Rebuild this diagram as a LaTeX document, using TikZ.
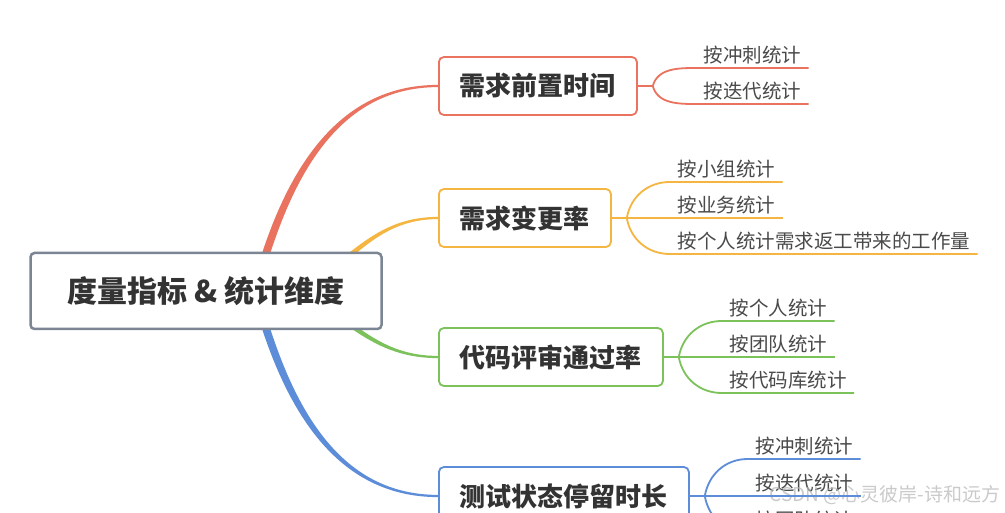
\documentclass[tikz,border=0pt]{standalone}
\usepackage{fontspec}
\setmainfont{Noto Sans CJK SC}
\usetikzlibrary{positioning,backgrounds}
\definecolor{rootgray}{HTML}{7C8593}
\definecolor{txtdark}{HTML}{333333}
\definecolor{txtleaf}{HTML}{4A4A4A}
\definecolor{xred}{HTML}{E9735E}
\definecolor{xorange}{HTML}{F4B640}
\definecolor{xgreen}{HTML}{7BC25A}
\definecolor{xblue}{HTML}{5D8DD8}
\tikzstyle{root} = [rectangle, rounded corners=4pt, minimum width=351pt, minimum height=76pt, text centered, draw=rootgray, line width=2.5pt, fill=white, text=txtdark, font=\fontsize{30}{30}\selectfont\bfseries]
\tikzstyle{topic} = [rectangle, rounded corners=5pt, minimum height=58pt, inner xsep=21pt, line width=1.8pt, fill=white, text=txtdark, font=\fontsize{26}{26}\selectfont\bfseries]
\tikzstyle{leaf} = [inner xsep=7.5pt, inner ysep=3.5pt, text=txtleaf, font=\fontsize{19.5}{20}\selectfont]
\tikzstyle{link} = [line width=1.8pt]

\begin{document}
\begin{tikzpicture}[x=1pt,y=1pt]
\useasboundingbox (0,0) rectangle (1005,-513);

\node (root) [root] at (206,-291) {度量指标 \& 统计维度};
\node (b1) [topic, draw=xred, anchor=west] at (438,-86) {需求前置时间};
\node (b2) [topic, draw=xorange, below=132pt of b1.west, anchor=west] {需求变更率};
\node (b3) [topic, draw=xgreen, below=139pt of b2.west, anchor=west] {代码评审通过率};
\node (b4) [topic, draw=xblue, below=139pt of b3.west, anchor=west] {测试状态停留时长};
%
\coordinate [right=15pt of b1] (f1);
	\node (l11) [leaf, above right=18pt and 43pt of f1] {按冲刺统计};
	\node (l12) [leaf, above right=-18pt and 43pt of f1] {按迭代统计};
\coordinate [right=15pt of b2] (f2);
	\node (l21) [leaf, above right=36pt and 43pt of f2] {按小组统计};
	\node (l22) [leaf, above right=0pt and 43pt of f2] {按业务统计};
	\node (l23) [leaf, above right=-36pt and 43pt of f2] {按个人统计需求返工带来的工作量};
\coordinate [right=15pt of b3] (f3);
	\node (l31) [leaf, above right=36pt and 43pt of f3] {按个人统计};
	\node (l32) [leaf, above right=0pt and 43pt of f3] {按团队统计};
	\node (l33) [leaf, above right=-36pt and 43pt of f3] {按代码库统计};
\coordinate [right=15pt of b4] (f4);
	\node (l41) [leaf, above right=37pt and 43pt of f4] {按冲刺统计};
	\node (l42) [leaf, above right=0pt and 43pt of f4] {按迭代统计};
	\node (l43) [leaf, above right=-37pt and 43pt of f4] {按团队统计};
%
\node (watermark) [text=gray!55, opacity=.75, font=\fontsize{19}{19}\selectfont, anchor=east] at (1004,-495) {CSDN @心灵彼岸-诗和远方};
%
\begin{pgfonlayer}{background}
\fill [white] (0,0) rectangle (1005,-513);
\coordinate (s1) at ([xshift=49pt]root.center);
\coordinate (s2) at ([xshift=99pt]root.center);
\fill [xred] ([shift={(165:4)}]s1) to[out=75,in=180] ([yshift=1.1]b1.west) -- ([yshift=-1.1]b1.west) to[out=180,in=75] ([shift={(-15:4)}]s1) -- cycle;
\fill [xorange] ([shift={(125:3)}]s2) to[out=35,in=180] ([yshift=1.1]b2.west) -- ([yshift=-1.1]b2.west) to[out=180,in=35] ([shift={(-55:3)}]s2) -- cycle;
\fill [xgreen] ([shift={(55:3)}]s2) to[out=-35,in=180] ([yshift=1.1]b3.west) -- ([yshift=-1.1]b3.west) to[out=180,in=-35] ([shift={(-125:3)}]s2) -- cycle;
\fill [xblue] ([shift={(15:4)}]s1) to[out=-75,in=180] ([yshift=1.1]b4.west) -- ([yshift=-1.1]b4.west) to[out=180,in=-75] ([shift={(-165:4)}]s1) -- cycle;
\end{pgfonlayer}
%
\draw [link, xred] (b1) -- (f1);
	\draw [link, xred] (f1) to[out=75,in=180] (l11.south west) -- (l11.south east);
	\draw [link, xred] (f1) to[out=-75,in=180] (l12.south west) -- (l12.south east);
\draw [link, xorange] (b2) -- (f2);
	\draw [link, xorange] (f2) to[out=80,in=180] (l21.south west) -- (l21.south east);
	\draw [link, xorange] (f2) -- (l22.south east);
	\draw [link, xorange] (f2) to[out=-80,in=180] (l23.south west) -- (l23.south east);
\draw [link, xgreen] (b3) -- (f3);
	\draw [link, xgreen] (f3) to[out=80,in=180] (l31.south west) -- (l31.south east);
	\draw [link, xgreen] (f3) -- (l32.south east);
	\draw [link, xgreen] (f3) to[out=-80,in=180] (l33.south west) -- (l33.south east);
\draw [link, xblue] (b4) -- (f4);
	\draw [link, xblue] (f4) to[out=80,in=180] (l41.south west) -- (l41.south east);
	\draw [link, xblue] (f4) -- (l42.south east);
	\draw [link, xblue] (f4) to[out=-80,in=180] (l43.south west) -- (l43.south east);
\end{tikzpicture}
\end{document}
